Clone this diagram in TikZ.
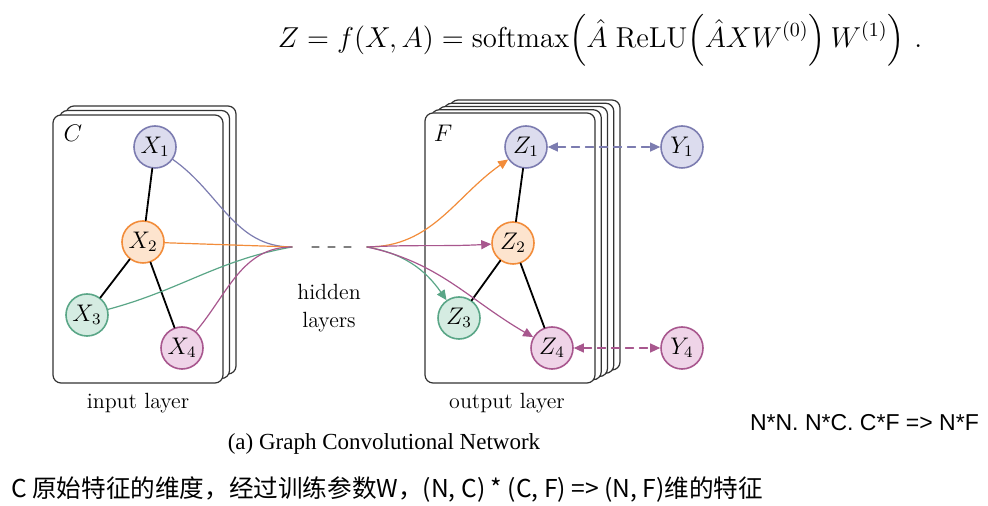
\documentclass[tikz,border=0pt]{standalone}
\usepackage{amsmath}
\usepackage{fontspec}
\newfontfamily\cjkfont{Noto Sans CJK SC}
\newfontfamily\arialfont{Liberation Sans}
\newfontfamily\timesfont{Liberation Serif}
\usetikzlibrary{arrows.meta}

\definecolor{vio}{HTML}{7C7CB0}
\definecolor{viofill}{HTML}{DCDCEE}
\definecolor{ora}{HTML}{F28C3A}
\definecolor{orafill}{HTML}{FDE4CE}
\definecolor{gre}{HTML}{5AA687}
\definecolor{grefill}{HTML}{D5ECE2}
\definecolor{pnk}{HTML}{A8578E}
\definecolor{pnkfill}{HTML}{EFD4E8}

\tikzset{
  card/.style={draw=black!80,fill=white,line width=0.6pt,rounded corners=4pt},
  gnode/.style={circle,minimum size=21pt,inner sep=0pt,line width=0.8pt,font=\large},
  vnode/.style={gnode,draw=vio,fill=viofill},
  onode/.style={gnode,draw=ora,fill=orafill},
  gnnode/.style={gnode,draw=gre,fill=grefill},
  pnode/.style={gnode,draw=pnk,fill=pnkfill},
  adj/.style={line width=0.9pt},
  fan/.style={line width=0.6pt},
  link/.style={line width=0.6pt,dash pattern=on 4pt off 3pt,<->},
  lbl/.style={font=\fontsize{11}{13}\selectfont}
}

\begin{document}
\begin{tikzpicture}[line cap=round,line join=round,>={Triangle[length=5pt,width=4.5pt]},x=0.5pt,y=-0.5pt]
\useasboundingbox (0,0) rectangle (988,506);
% formula
\node (eq) at (600,40) {\Large$Z=f(X,A)=\mathrm{softmax}\Bigl(\hat A\;\mathrm{ReLU}\Bigl(\hat A X W^{(0)}\Bigr)\,W^{(1)}\Bigr)\ .$};
% input layer cards
\foreach \i in {2,1,0}
  \draw[card,shift={(\i*6.5,-\i*4.5)}] (53,115) rectangle (223,383);
% output layer cards
\foreach \i in {4,3,2,1,0}
  \draw[card,shift={(\i*6.25,-\i*3.25)}] (425,113) rectangle (595,383);
\node[font=\large] at (73,133) {$C$};
\node[font=\large] at (443,133) {$F$};
% input graph
\node[vnode] (X1) at (155,147) {$X_1$};
\node[onode] (X2) at (143,242) {$X_2$};
\node[gnnode] (X3) at (87,315) {$X_3$};
\node[pnode] (X4) at (182,348) {$X_4$};
\draw[adj] (X1) -- (X2);
\draw[adj] (X2) -- (X3);
\draw[adj] (X2) -- (X4);
% output graph
\node[vnode] (Z1) at (526,147) {$Z_1$};
\node[onode] (Z2) at (513,243) {$Z_2$};
\node[gnnode] (Z3) at (459,318) {$Z_3$};
\node[pnode] (Z4) at (552,348) {$Z_4$};
\node[vnode] (Y1) at (682,147) {$Y_1$};
\node[pnode] (Y4) at (682,348) {$Y_4$};
\draw[adj] (Z1) -- (Z2);
\draw[adj] (Z2) -- (Z3);
\draw[adj] (Z2) -- (Z4);
% hidden layers
\coordinate (hin) at (292,247);
\coordinate (hout) at (367,247);
\draw[fan,vio] (X1) to[out=-35,in=180] (hin);
\draw[fan,ora] (X2) -- (hin);
\draw[fan,gre] (X3) to[out=15,in=190] (hin);
\draw[fan,pnk] (X4) to[out=50,in=180] (hin);
\draw[fan,gray,dash pattern=on 3.5pt off 4.5pt,shorten <=10pt,shorten >=7pt] (hin) -- (hout);
\draw[fan,ora,->] (hout) to[out=0,in=215] (Z1);
\draw[fan,pnk,->] (hout) to[out=3,in=183] (Z2);
\draw[fan,gre,->] (hout) to[out=-10,in=125] (Z3);
\draw[fan,pnk,->] (hout) to[out=-12,in=150] (Z4);
\draw[link,vio] (Z1) -- (Y1);
\draw[link,pnk] (Z4) -- (Y4);
\node[lbl,align=center] (hid) at (329,308) {hidden\\[1pt]layers};
% captions
\node[lbl] (inl) at (138,403) {input layer};
\node[lbl] (outl) at (507,403) {output layer};
\node (cap) at (384,444) {\fontsize{11.5}{14}\timesfont (a) Graph Convolutional Network};
\node[anchor=west] (dims) at (743,423) {\fontsize{11.5}{14}\arialfont N*N. N*C. C*F => N*F};
\node[anchor=west] (note) at (4,490) {\fontsize{12.3}{15}\cjkfont C 原始特征的维度，经过训练参数W，(N, C) * (C, F) => (N, F)维的特征};
\end{tikzpicture}
\end{document}
